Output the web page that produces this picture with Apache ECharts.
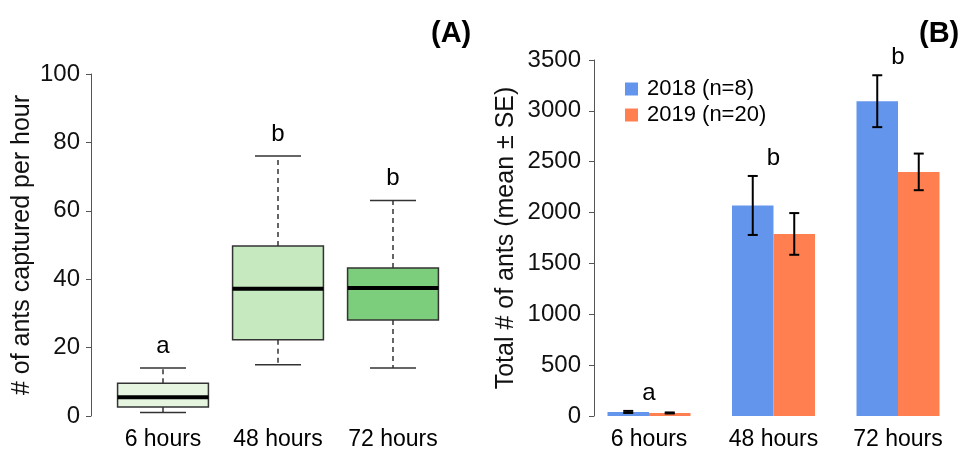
<!DOCTYPE html>
<html>
<head>
<meta charset="utf-8">
<script src="https://cdn.jsdelivr.net/npm/echarts@6/dist/echarts.min.js"></script>
<style>
  html, body { margin: 0; padding: 0; background: #fff; }
  #chart { width: 963px; height: 451px; }
</style>
</head>
<body>
<div id="chart"></div>
<script>
// categories
var hours = ['6 hours', '48 hours', '72 hours'];

// (A) box plot stats: ants captured per hour
var boxMin = [1, 15, 14];
var boxQ1 = [2.6, 22.3, 28.1];
var boxMed = [5.5, 37.2, 37.4];
var boxQ3 = [9.6, 49.7, 43.3];
var boxMax = [14, 76, 63];
var lettersA = ['a', 'b', 'b'];

// (B) total ants, mean and SE
var mean2018 = [40, 2070, 3095];
var se2018 = [10, 290, 255];
var mean2019 = [30, 1790, 2400];
var se2019 = [5, 205, 180];
var lettersB = ['a', 'b', 'b'];

var boxFills = ['#e5f5e0', '#c7e9c0', '#7ccd7c'];
var FONT = 'Liberation Sans, Arial, sans-serif';

var boxData = hours.map(function (h, i) {
    return [i, boxMin[i], boxQ1[i], boxMed[i], boxQ3[i], boxMax[i]];
});
var errData2018 = hours.map(function (h, i) { return [i, mean2018[i] - se2018[i], mean2018[i] + se2018[i]]; });
var errData2019 = hours.map(function (h, i) { return [i, mean2019[i] - se2019[i], mean2019[i] + se2019[i]]; });
var letterDataA = hours.map(function (h, i) { return [i, boxMax[i]]; });
var letterDataB = hours.map(function (h, i) {
    return [i, Math.max(mean2018[i] + se2018[i], mean2019[i] + se2019[i])];
});

function renderBox(params, api) {
    var i = api.value(0);
    var band = api.size([1, 0])[0];
    var half = band * 0.395;
    var cap = band * 0.2;
    var pMin = api.coord([i, api.value(1)]);
    var pQ1 = api.coord([i, api.value(2)]);
    var pMed = api.coord([i, api.value(3)]);
    var pQ3 = api.coord([i, api.value(4)]);
    var pMax = api.coord([i, api.value(5)]);
    var cx = pMed[0];
    var dash = { stroke: '#333', lineWidth: 1.5, lineDash: [5, 4] };
    var solid = { stroke: '#333', lineWidth: 1.5 };
    return {
        type: 'group',
        children: [
            { type: 'line', shape: { x1: cx, y1: pQ3[1], x2: cx, y2: pMax[1] }, style: dash },
            { type: 'line', shape: { x1: cx, y1: pQ1[1], x2: cx, y2: pMin[1] }, style: dash },
            { type: 'line', shape: { x1: cx - cap, y1: pMax[1], x2: cx + cap, y2: pMax[1] }, style: solid },
            { type: 'line', shape: { x1: cx - cap, y1: pMin[1], x2: cx + cap, y2: pMin[1] }, style: solid },
            {
                type: 'rect',
                shape: { x: cx - half, y: pQ3[1], width: half * 2, height: pQ1[1] - pQ3[1] },
                style: { fill: boxFills[i], stroke: '#333', lineWidth: 1.5 }
            },
            { type: 'line', shape: { x1: cx - half, y1: pMed[1], x2: cx + half, y2: pMed[1] }, style: { stroke: '#000', lineWidth: 4 } }
        ]
    };
}

function errRenderer(side) {
    return function (params, api) {
        var i = api.value(0);
        var band = api.size([1, 0])[0];
        var lo = api.coord([i, api.value(1)]);
        var hi = api.coord([i, api.value(2)]);
        var x = lo[0] + side * band / 6;
        var s = { stroke: '#000', lineWidth: 2 };
        return {
            type: 'group',
            children: [
                { type: 'line', shape: { x1: x, y1: lo[1], x2: x, y2: hi[1] }, style: s },
                { type: 'line', shape: { x1: x - 5, y1: lo[1], x2: x + 5, y2: lo[1] }, style: s },
                { type: 'line', shape: { x1: x - 5, y1: hi[1], x2: x + 5, y2: hi[1] }, style: s }
            ]
        };
    };
}

function letterRenderer(letters, lift) {
    return function (params, api) {
        var i = api.value(0);
        var p = api.coord([i, api.value(1)]);
        return {
            type: 'text',
            x: p[0],
            y: p[1] - lift,
            style: {
                text: letters[i], fill: '#000', fontSize: 24, fontFamily: FONT,
                align: 'center', verticalAlign: 'middle'
            }
        };
    };
}

var catAxis = function (gridIndex) {
    return {
        type: 'category',
        gridIndex: gridIndex,
        data: hours,
        axisLine: { show: false },
        axisTick: { show: false },
        axisLabel: { color: '#000', fontSize: 23, fontFamily: FONT, margin: 12, interval: 0, hideOverlap: false }
    };
};

var valAxis = function (gridIndex, max, interval, name, offset, nameGap, margin) {
    return {
        type: 'value',
        gridIndex: gridIndex,
        min: 0,
        max: max,
        interval: interval,
        offset: offset,
        name: name,
        nameLocation: 'middle',
        nameGap: nameGap,
        nameTextStyle: { color: '#111', fontSize: 25, fontFamily: FONT },
        splitLine: { show: false },
        axisLine: { show: true, lineStyle: { color: '#555', width: 1 } },
        axisTick: { show: true, length: 5, lineStyle: { color: '#555' } },
        axisLabel: {
            color: '#111', fontSize: 24, fontFamily: FONT, margin: margin,
            formatter: function (v) { return String(v); }
        }
    };
};

var myChart = echarts.init(document.getElementById('chart'), null, { renderer: 'canvas' });
var option = {
    backgroundColor: '#fff',
    animation: false,
    title: [
        { text: '(A)', left: 426, top: 14, textStyle: { fontSize: 29, fontWeight: 'bold', color: '#000', fontFamily: FONT } },
        { text: '(B)', left: 914, top: 14, textStyle: { fontSize: 29, fontWeight: 'bold', color: '#000', fontFamily: FONT } }
    ],
    grid: [
        { left: 105.5, width: 345, top: 74, height: 342 },
        { left: 586.75, width: 373.5, top: 60, height: 357 }
    ],
    legend: {
        orient: 'vertical',
        left: 620,
        top: 73,
        itemWidth: 13,
        itemHeight: 13,
        itemGap: 4,
        icon: 'rect',
        data: ['2018 (n=8)', '2019 (n=20)'],
        textStyle: { fontSize: 22, fontFamily: FONT, color: '#000', padding: [0, 0, 0, 4] }
    },
    xAxis: [catAxis(0), catAxis(1)],
    yAxis: [
        valAxis(0, 100, 20, '# of ants captured per hour', 14.5, 56, 11),
        valAxis(1, 3500, 500, 'Total # of ants (mean ± SE)', -7.25, 75, 13)
    ],
    series: [
        {
            name: 'box', type: 'custom', xAxisIndex: 0, yAxisIndex: 0,
            renderItem: renderBox, data: boxData, encode: { x: 0, y: [1, 2, 3, 4, 5] }
        },
        {
            name: 'lettersA', type: 'custom', xAxisIndex: 0, yAxisIndex: 0,
            renderItem: letterRenderer(lettersA, 22), data: letterDataA, encode: { x: 0, y: 1 }
        },
        {
            name: '2018 (n=8)', type: 'bar', xAxisIndex: 1, yAxisIndex: 1,
            data: mean2018, barWidth: '33.33%', barGap: '0%',
            itemStyle: { color: '#6495ed' }
        },
        {
            name: '2019 (n=20)', type: 'bar', xAxisIndex: 1, yAxisIndex: 1,
            data: mean2019, barWidth: '33.33%', barGap: '0%',
            itemStyle: { color: '#ff7f50' }
        },
        {
            name: 'err2018', type: 'custom', xAxisIndex: 1, yAxisIndex: 1, z: 5,
            renderItem: errRenderer(-1), data: errData2018, encode: { x: 0, y: [1, 2] }
        },
        {
            name: 'err2019', type: 'custom', xAxisIndex: 1, yAxisIndex: 1, z: 5,
            renderItem: errRenderer(1), data: errData2019, encode: { x: 0, y: [1, 2] }
        },
        {
            name: 'lettersB', type: 'custom', xAxisIndex: 1, yAxisIndex: 1,
            renderItem: letterRenderer(lettersB, 18), data: letterDataB, encode: { x: 0, y: 1 }
        }
    ]
};
myChart.setOption(option);
</script>
</body>
</html>
